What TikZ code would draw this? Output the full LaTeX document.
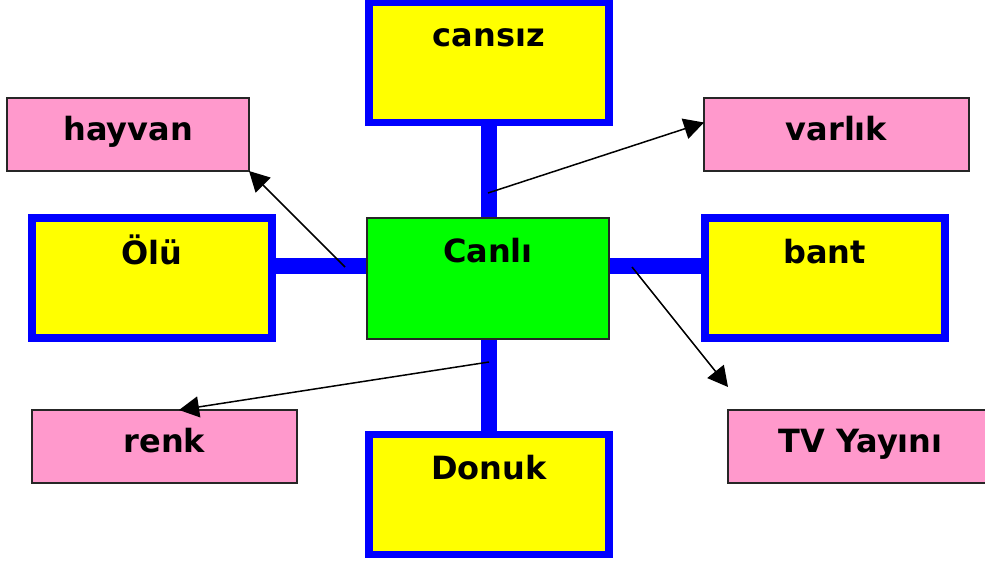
\documentclass[tikz,border=0pt]{standalone}
\usepackage{fontspec}
\setmainfont{DejaVu Sans}
\usetikzlibrary{arrows.meta,calc}
\definecolor{ybox}{HTML}{FFFF00}
\definecolor{bbox}{HTML}{0000FF}
\definecolor{gbox}{HTML}{00FF00}
\definecolor{pbox}{HTML}{FF99CC}
\tikzset{
  yellowbox/.style={draw=bbox, fill=ybox, line width=7.5pt, minimum width=240pt, minimum height=120pt, inner sep=0pt, outer sep=0pt},
  greenbox/.style={draw=black!85, fill=gbox, line width=1.5pt, minimum width=242pt, minimum height=121pt, inner sep=0pt, outer sep=0pt},
  pinkbox/.style={draw=black!85, fill=pbox, line width=1.5pt, minimum width=265pt, minimum height=73pt, inner sep=0pt, outer sep=0pt,
    font=\bfseries\fontsize{32}{38}\selectfont, text height=20pt, text depth=8pt},
  toplabel/.style={anchor=base, inner sep=0pt, font=\bfseries\fontsize{32}{38}\selectfont},
  bluelink/.style={draw=bbox, line width=16pt},
  pointer/.style={draw=black, line width=1.5pt, -{Triangle[length=20pt,width=21pt]}}
}
\begin{document}
\begin{tikzpicture}[x=1pt,y=-1pt]
\useasboundingbox (0,0) rectangle (985,565);
% blue connectors (behind)
\draw[bluelink] (488.5,62.5) -- (488.5,494.5);
\draw[bluelink] (152,266) -- (824.75,266);
% boxes
\node[yellowbox] (cansiz) at (488.75,62.5) {};
\node[yellowbox] (olu) at (152,278) {};
\node[yellowbox] (bant) at (824.75,278) {};
\node[yellowbox] (donuk) at (488.75,494.5) {};
\node[greenbox] (canli) at (488,278.5) {};
\node[toplabel] (tcansiz) at ([yshift=-44pt]cansiz.north) {cansız};
\node[toplabel] (tolu) at ([yshift=-46pt]olu.north) {Ölü};
\node[toplabel] (tbant) at ([yshift=-45pt]bant.north) {bant};
\node[toplabel] (tdonuk) at ([yshift=-45pt]donuk.north) {Donuk};
\node[toplabel] (tcanli) at ([yshift=-44pt]canli.north) {Canlı};
\node[pinkbox, minimum width=242pt] (hayvan) at (128,134.5) {hayvan};
\node[pinkbox] (varlik) at (836.5,134.5) {varlık};
\node[pinkbox] (renk) at (164.5,446.5) {renk};
\node[pinkbox] (tv) at (860.5,446.5) {TV Yayını};
% arrows
\coordinate (h0) at (345,267);
\coordinate (v0) at (488,193);
\coordinate (t0) at (632,267);
\coordinate (t1) at (728,387);
\coordinate (r0) at (489,362);
\draw[pointer] (h0) -- (hayvan.south east);
\draw[pointer] (v0) -- ([yshift=12pt]varlik.west);
\draw[pointer] (t0) -- (t1);
\draw[pointer] (r0) -- ([xshift=147pt]renk.north west);
\end{tikzpicture}
\end{document}
